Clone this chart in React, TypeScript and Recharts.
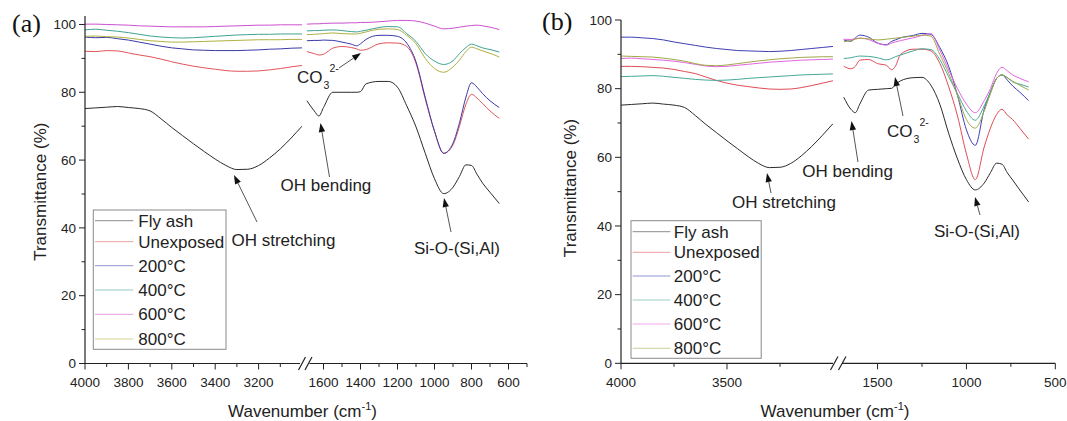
import React from 'react';
import { LineChart, Line, XAxis, YAxis } from 'recharts';

const SERIES = ['Fly ash', 'Unexposed', '200°C', '400°C', '600°C', '800°C'];
const KEYS = ['flyAsh', 'unexposed', 't200', 't400', 't600', 't800'];

// wavenumbers (cm-1) of the two axis segments
const HIGH_W = [4000, 3950, 3900, 3850, 3800, 3750, 3700, 3650, 3600, 3550, 3500, 3450, 3400, 3350, 3300, 3250, 3200, 3150, 3100, 3050, 3000];
const LOW_W = [1690, 1650, 1625, 1600, 1550, 1500, 1450, 1420, 1400, 1370, 1300, 1250, 1200, 1150, 1100, 1050, 1000, 950, 900, 865, 830, 800, 770, 740, 700, 650];

// panel (a), 4000-3000
const A_FLY_H = [75.2, 75.4, 75.6, 75.8, 75.5, 75.2, 74.5, 72.2, 69.6, 67.2, 64.8, 62.5, 60.3, 58.4, 57.2, 57.3, 58.4, 60.6, 63.3, 66.5, 70.0];
const A_UNEXP_H = [92.1, 92.0, 92.3, 92.2, 91.6, 91.0, 90.5, 89.8, 89.0, 88.3, 87.7, 87.2, 86.8, 86.4, 86.2, 86.2, 86.3, 86.6, 87.0, 87.5, 87.9];
const A_T200_H = [96.3, 96.1, 96.2, 95.8, 95.4, 94.8, 94.2, 93.6, 93.1, 92.8, 92.5, 92.4, 92.3, 92.3, 92.3, 92.4, 92.5, 92.7, 92.8, 93.0, 93.1];
const A_T400_H = [98.4, 98.6, 98.3, 98.0, 97.6, 97.1, 96.6, 96.3, 96.1, 96.0, 96.1, 96.3, 96.5, 96.7, 96.9, 97.0, 97.1, 97.1, 97.2, 97.2, 97.2];
const A_T600_H = [100.1, 100.1, 100.0, 99.9, 99.8, 99.6, 99.5, 99.4, 99.3, 99.3, 99.3, 99.3, 99.4, 99.5, 99.6, 99.7, 99.8, 99.8, 99.9, 99.9, 99.9];
const A_T800_H = [96.5, 96.6, 96.4, 96.3, 96.0, 95.6, 95.2, 95.0, 94.8, 94.8, 94.9, 95.0, 95.1, 95.2, 95.3, 95.4, 95.5, 95.5, 95.5, 95.6, 95.6];

// panel (a), 1700-500
const A_FLY_L = [77.5, 74.5, 73.0, 75.5, 80.0, 80.0, 80.0, 80.0, 80.2, 82.5, 83.2, 83.2, 81.5, 76.0, 69.8, 62.0, 54.5, 50.1, 52.0, 55.2, 58.6, 58.4, 55.8, 53.2, 50.5, 47.2];
const A_UNEXP_L = [92.0, 91.4, 91.0, 91.2, 93.0, 93.5, 93.2, 92.8, 92.4, 92.6, 94.3, 94.6, 94.5, 93.5, 88.5, 78.0, 68.5, 62.0, 64.5, 70.0, 76.5, 79.4, 78.3, 76.7, 74.5, 72.3];
const A_T200_L = [95.2, 95.3, 95.3, 95.4, 95.3, 94.8, 94.2, 93.7, 94.3, 95.6, 96.8, 96.8, 96.5, 94.5, 89.0, 78.5, 68.5, 62.0, 65.0, 71.0, 78.6, 82.8, 81.5, 79.6, 77.5, 75.5];
const A_T400_L = [98.1, 98.2, 98.2, 98.3, 98.4, 98.2, 97.9, 97.8, 98.0, 98.3, 99.1, 99.4, 99.3, 97.3, 95.0, 91.4, 89.2, 88.2, 89.3, 91.4, 93.2, 94.2, 93.7, 93.1, 92.6, 91.9];
const A_T600_L = [100.1, 100.2, 100.2, 100.3, 100.4, 100.4, 100.5, 100.5, 100.6, 100.6, 100.8, 101.0, 101.2, 101.2, 101.0, 100.4, 99.5, 98.7, 98.9, 99.2, 99.5, 99.7, 99.8, 99.6, 99.2, 98.5];
const A_T800_L = [97.0, 97.1, 97.2, 97.3, 97.5, 97.3, 97.2, 97.2, 97.4, 97.8, 98.6, 98.7, 98.5, 96.8, 94.3, 90.0, 87.0, 85.9, 87.5, 89.5, 92.0, 93.3, 92.8, 92.2, 91.5, 90.4];

// panel (b), 4000-3000
const B_FLY_H = [75.2, 75.4, 75.6, 75.8, 75.5, 75.2, 74.5, 72.2, 69.6, 67.2, 64.8, 62.5, 60.2, 58.2, 57.0, 57.1, 58.2, 60.4, 63.2, 66.4, 69.8];
const B_UNEXP_H = [86.5, 86.5, 86.4, 86.2, 86.0, 85.6, 85.0, 84.4, 83.4, 82.4, 81.6, 81.0, 80.6, 80.2, 79.9, 79.8, 79.9, 80.3, 80.9, 81.6, 82.3];
const B_T200_H = [95.0, 95.0, 94.8, 94.6, 94.2, 93.6, 93.1, 92.6, 92.1, 91.7, 91.4, 91.1, 91.0, 90.9, 90.8, 90.9, 91.1, 91.4, 91.7, 92.0, 92.3];
const B_T400_H = [83.5, 83.6, 83.7, 83.8, 83.6, 83.3, 83.0, 82.7, 82.5, 82.4, 82.5, 82.7, 83.0, 83.2, 83.4, 83.6, 83.8, 84.0, 84.1, 84.2, 84.3];
const B_T600_H = [88.8, 88.9, 88.7, 88.5, 88.3, 88.0, 87.6, 87.1, 86.6, 86.4, 86.5, 86.8, 87.1, 87.4, 87.7, 87.9, 88.1, 88.3, 88.4, 88.5, 88.6];
const B_T800_H = [89.5, 89.4, 89.3, 89.2, 88.9, 88.5, 88.0, 87.3, 86.8, 86.7, 86.9, 87.3, 87.7, 88.1, 88.4, 88.7, 88.9, 89.1, 89.2, 89.3, 89.3];

// panel (b), 1700-500
const B_FLY_L = [77.5, 74.0, 73.0, 75.5, 79.6, 79.8, 80.0, 80.1, 81.2, 82.3, 83.2, 83.3, 81.0, 75.5, 67.0, 59.5, 53.5, 50.5, 52.5, 55.5, 58.3, 58.0, 55.5, 53.4, 50.5, 47.0];
const B_UNEXP_L = [86.5, 85.8, 86.5, 88.3, 88.5, 87.3, 86.8, 85.5, 86.5, 90.0, 91.5, 91.5, 91.0, 87.4, 80.6, 72.0, 61.0, 53.5, 63.0, 68.5, 72.5, 74.0, 72.3, 71.0, 68.5, 65.3];
const B_T200_L = [94.2, 93.8, 94.8, 95.6, 95.0, 93.3, 92.8, 93.8, 94.2, 94.8, 95.5, 96.1, 95.8, 92.0, 86.5, 78.0, 68.0, 63.5, 74.0, 79.0, 83.0, 84.0, 82.5, 80.8, 79.0, 76.5];
const B_T400_L = [88.8, 89.0, 89.3, 89.5, 89.4, 89.0, 88.4, 88.8, 89.3, 89.8, 91.0, 91.6, 91.4, 88.5, 83.5, 78.5, 73.5, 70.8, 75.0, 79.0, 83.0, 84.0, 83.2, 82.0, 81.3, 80.5];
const B_T600_L = [94.4, 94.3, 94.6, 94.7, 94.3, 93.2, 92.7, 93.3, 93.6, 94.0, 94.8, 95.5, 96.0, 91.3, 85.5, 80.0, 75.5, 73.0, 76.5, 80.0, 84.5, 86.2, 85.2, 84.0, 83.0, 82.0];
const B_T800_L = [93.7, 94.0, 94.4, 94.7, 94.5, 94.2, 94.4, 94.6, 94.7, 94.9, 95.3, 95.6, 95.3, 90.0, 84.5, 78.0, 71.0, 68.5, 73.5, 78.5, 83.0, 84.0, 83.2, 82.2, 81.0, 79.6];

// axis ticks
const A_HIGH_TICKS = [4000, 3900, 3800, 3700, 3600, 3500, 3400, 3300, 3200, 3100];
const A_HIGH_LABELS = [4000, 3800, 3600, 3400, 3200];
const A_LOW_TICKS = [1600, 1500, 1400, 1300, 1200, 1100, 1000, 900, 800, 700, 600, 500];
const A_LOW_LABELS = [1600, 1400, 1200, 1000, 800, 600];
const B_HIGH_TICKS = [4000, 3750, 3500, 3250];
const B_HIGH_LABELS = [4000, 3500];
const B_LOW_TICKS = [1500, 1250, 1000, 750, 500];
const B_LOW_LABELS = [1500, 1000, 500];
const Y_TICKS = [0, 10, 20, 30, 40, 50, 60, 70, 80, 90, 100];
const Y_LABELS = [0, 20, 40, 60, 80, 100];

const A_COLORS = ['#2b2b2b', '#e0555a', '#3a3aa8', '#3fa393', '#cc4fd0', '#b0b040'];
const B_COLORS = ['#2b2b2b', '#e04a55', '#3d3db5', '#45a898', '#e264e0', '#a0a845'];

const FONT = '"Liberation Sans", Arial, sans-serif';
const INK = '#222';
const PAD_TOP = 12;

const buildRows = (ws: number[], cols: number[][]) =>
  ws.map((w, i) => {
    const row: Record<string, number> = { w };
    KEYS.forEach((k, j) => { row[k] = cols[j][i]; });
    return row;
  });

const XTick = (props: any) => {
  const { x, y, payload, labels } = props;
  const major = labels.includes(payload.value);
  return (
    <g>
      <line x1={x} x2={x} y1={y} y2={y + (major ? 6 : 3.5)} stroke={INK} strokeWidth={1} />
      {major && (
        <text x={x} y={y + 23.5} textAnchor="middle" fontSize={13.5} fontFamily={FONT} fill={INK}>
          {payload.value}
        </text>
      )}
    </g>
  );
};

const YTick = (props: any) => {
  const { x, y, payload } = props;
  const major = Y_LABELS.includes(payload.value);
  return (
    <g>
      <line x1={x - (major ? 6 : 3.5)} x2={x} y1={y} y2={y} stroke={INK} strokeWidth={1} />
      {major && (
        <text x={x - 9} y={y + 4.8} textAnchor="end" fontSize={13.5} fontFamily={FONT} fill={INK}>
          {payload.value}
        </text>
      )}
    </g>
  );
};

type Seg = {
  rows: Record<string, number>[];
  domain: [number, number];
  ticks: number[];
  labels: number[];
  left: number; top: number; width: number; plotH: number; padRight: number;
  showY: boolean;
};

const Segment = ({ seg, colors, yMax }: { seg: Seg; colors: string[]; yMax: number }) => (
  <div style={{ position: 'absolute', left: seg.left, top: seg.top - PAD_TOP }}>
    <LineChart
      width={seg.width}
      height={seg.plotH + 50 + PAD_TOP}
      data={seg.rows}
      margin={{ top: PAD_TOP, right: seg.padRight, bottom: 0, left: 0 }}
    >
      <XAxis
        dataKey="w"
        type="number"
        domain={seg.domain}
        reversed
        allowDataOverflow
        ticks={seg.ticks}
        interval={0}
        height={50}
        tickSize={0}
        tickMargin={0}
        tickLine={false}
        axisLine={{ stroke: INK, strokeWidth: 1.2 }}
        tick={(p: any) => <XTick {...p} labels={seg.labels} />}
      />
      <YAxis
        type="number"
        domain={[0, yMax]}
        allowDataOverflow
        ticks={Y_TICKS}
        interval={0}
        width={60}
        hide={!seg.showY}
        tickSize={0}
        tickMargin={0}
        tickLine={false}
        axisLine={{ stroke: INK, strokeWidth: 1.2 }}
        tick={(p: any) => <YTick {...p} />}
      />
      {KEYS.map((k, i) => (
        <Line
          key={k}
          dataKey={k}
          type="monotone"
          stroke={colors[i]}
          strokeWidth={1}
          dot={false}
          isAnimationActive={false}
        />
      ))}
    </LineChart>
  </div>
);

const Arrow = ({ from, to }: { from: [number, number]; to: [number, number] }) => {
  const [x1, y1] = from;
  const [x2, y2] = to;
  const len = Math.hypot(x2 - x1, y2 - y1);
  const ux = (x2 - x1) / len;
  const uy = (y2 - y1) / len;
  const bx = x2 - ux * 9;
  const by = y2 - uy * 9;
  return (
    <g>
      <line x1={x1} y1={y1} x2={bx} y2={by} stroke="#555" strokeWidth={1} />
      <polygon points={`${x2},${y2} ${bx - uy * 3.2},${by + ux * 3.2} ${bx + uy * 3.2},${by - ux * 3.2}`} fill="#111" />
    </g>
  );
};

const Legend = ({ box, items, lineX, textX, colors }: any) => (
  <g>
    <rect x={box[0]} y={box[1]} width={box[2]} height={box[3]} fill="#fff" stroke="#8a8a8a" strokeWidth={1} />
    {SERIES.map((name, i) => (
      <g key={name}>
        <line x1={lineX[0]} x2={lineX[1]} y1={items[i]} y2={items[i]} stroke={colors[i]} strokeOpacity={0.55} strokeWidth={1} />
        <text x={textX} y={items[i] + 6} fontSize={17} fontFamily={FONT} fill={INK}>{name}</text>
      </g>
    ))}
  </g>
);

const Label = ({ x, y, children }: any) => (
  <text x={x} y={y} fontSize={17} fontFamily={FONT} fill={INK}>{children}</text>
);

// CO3 2- with its subscript and superscript as separate pieces
const Carbonate = ({ x, y }: { x: number; y: number }) => (
  <g fontFamily={FONT} fill={INK}>
    <text x={x - 3} y={y} fontSize={17}>CO</text>
    <text x={x + 23.5} y={y + 6} fontSize={10.5}>3</text>
    <text x={x + 29.5} y={y - 11} fontSize={10.5}>2-</text>
  </g>
);

const Titles = ({ yc, xc }: { yc: [number, number]; xc: [number, number] }) => (
  <g fontFamily={FONT} fill={INK} fontSize={17}>
    <text x={yc[0]} y={yc[1] + 6} textAnchor="middle" transform={`rotate(-90 ${yc[0]} ${yc[1]})`}>
      Transmittance (%)
    </text>
    <text x={xc[0]} y={xc[1]} textAnchor="middle">
      Wavenumber (cm<tspan dy={-7} fontSize={11}>-1</tspan><tspan dy={7}>)</tspan>
    </text>
  </g>
);

const BreakMark = ({ gap, marks }: { gap: [number, number]; marks: number[][] }) => (
  <g>
    <rect x={gap[0]} y={360} width={gap[1] - gap[0]} height={7} fill="#fff" />
    {marks.map((m, i) => (
      <line key={i} x1={m[0]} y1={m[1]} x2={m[2]} y2={m[3]} stroke={INK} strokeWidth={1.2} />
    ))}
  </g>
);

export default function App() {
  const aHigh: Seg = {
    rows: buildRows(HIGH_W, [A_FLY_H, A_UNEXP_H, A_T200_H, A_T400_H, A_T600_H, A_T800_H]),
    domain: [3000, 4000], ticks: A_HIGH_TICKS, labels: A_HIGH_LABELS,
    left: 25, top: 15.8, width: 277, plotH: 347.5, padRight: 0, showY: true,
  };
  const aLow: Seg = {
    rows: buildRows(LOW_W, [A_FLY_L, A_UNEXP_L, A_T200_L, A_T400_L, A_T600_L, A_T800_L]),
    domain: [500, 1700], ticks: A_LOW_TICKS, labels: A_LOW_LABELS,
    left: 305, top: 15.8, width: 236, plotH: 347.5, padRight: 14, showY: false,
  };
  const bHigh: Seg = {
    rows: buildRows(HIGH_W, [B_FLY_H, B_UNEXP_H, B_T200_H, B_T400_H, B_T600_H, B_T800_H]),
    domain: [3000, 4000], ticks: B_HIGH_TICKS, labels: B_HIGH_LABELS,
    left: 561, top: 20, width: 272, plotH: 343.3, padRight: 0, showY: true,
  };
  const bLow: Seg = {
    rows: buildRows(LOW_W, [B_FLY_L, B_UNEXP_L, B_T200_L, B_T400_L, B_T600_L, B_T800_L]),
    domain: [500, 1700], ticks: B_LOW_TICKS, labels: B_LOW_LABELS,
    left: 842, top: 20, width: 225, plotH: 343.3, padRight: 11.7, showY: false,
  };

  return (
    <div style={{ position: 'absolute', left: 0, top: 0, width: 1067, height: 421, background: '#fff', overflow: 'hidden' }}>
      <Segment seg={aHigh} colors={A_COLORS} yMax={102.5} />
      <Segment seg={aLow} colors={A_COLORS} yMax={102.5} />
      <Segment seg={bHigh} colors={B_COLORS} yMax={100} />
      <Segment seg={bLow} colors={B_COLORS} yMax={100} />

      <svg width={1067} height={421} style={{ position: 'absolute', left: 0, top: 0, pointerEvents: 'none' }}>
        <text x={12} y={32} fontSize={26} fontFamily='"Liberation Serif", "Times New Roman", serif' fill="#111">(a)</text>
        <text x={542} y={30} fontSize={26} fontFamily='"Liberation Serif", "Times New Roman", serif' fill="#111">(b)</text>

        <Titles yc={[40.5, 191.7]} xc={[302.5, 416.5]} />
        <Titles yc={[570, 188]} xc={[835, 416.5]} />

        <BreakMark gap={[300, 309.5]} marks={[[298.5, 370, 305.5, 357], [305, 370, 312, 357]]} />
        <BreakMark gap={[833.5, 842]} marks={[[830.5, 370, 838, 356.5], [838.5, 370, 846, 356.5]]} />

        <Legend box={[93.3, 210, 132.7, 139.3]} items={[220.7, 241.7, 265.7, 290, 314.3, 339]} lineX={[95, 133.3]} textX={138.3} colors={A_COLORS} />
        <Legend box={[631, 220.7, 130.2, 137.6]} items={[231.7, 252.3, 276, 300, 324, 348.3]} lineX={[632.7, 670.4]} textX={673.8} colors={B_COLORS} />

        {/* panel (a) annotations */}
        <Label x={231.5} y={246}>OH stretching</Label>
        <Arrow from={[257, 222]} to={[234, 175]} />
        <Label x={280.6} y={191}>OH bending</Label>
        <Arrow from={[329.5, 177]} to={[320.5, 123]} />
        <Carbonate x={300} y={82.5} />
        <Arrow from={[339, 68]} to={[361, 53]} />
        <Label x={414} y={254}>Si-O-(Si,Al)</Label>
        <Arrow from={[451, 232]} to={[444, 198]} />

        {/* panel (b) annotations */}
        <Label x={732} y={207.5}>OH stretching</Label>
        <Arrow from={[771, 193]} to={[767, 173]} />
        <Label x={802.3} y={177}>OH bending</Label>
        <Arrow from={[858, 162]} to={[851.5, 121]} />
        <Carbonate x={890} y={136.5} />
        <Arrow from={[903, 116]} to={[895, 77]} />
        <Label x={934} y={237}>Si-O-(Si,Al)</Label>
        <Arrow from={[980, 215]} to={[975, 197]} />
      </svg>
    </div>
  );
}
